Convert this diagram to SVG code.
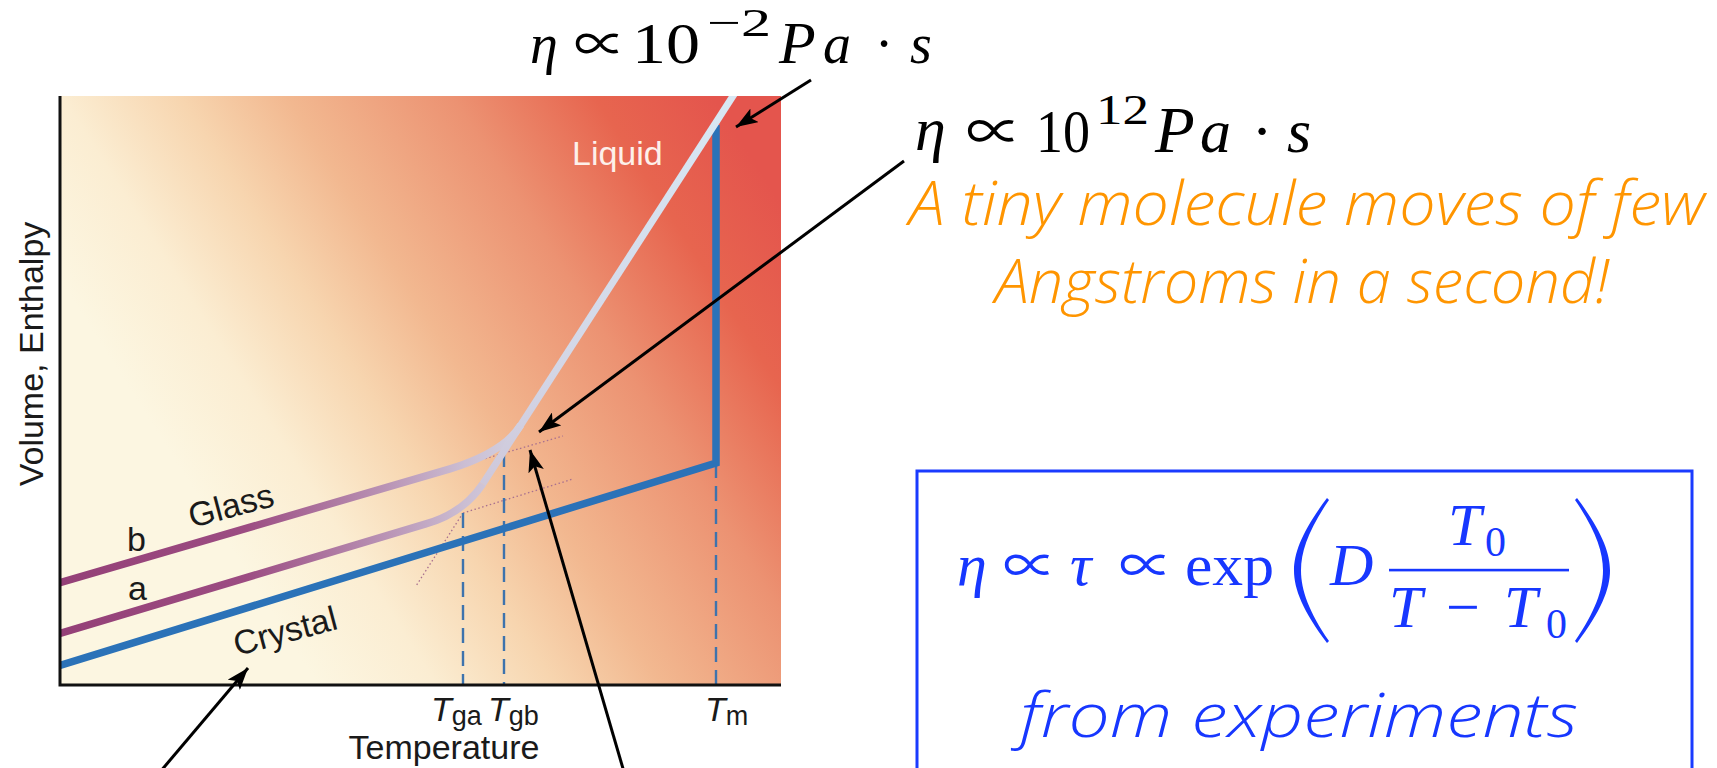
<svg xmlns="http://www.w3.org/2000/svg" width="1717" height="768" viewBox="0 0 1717 768">
<defs>
<style>
.lbl{font-family:"Liberation Sans",Arial,sans-serif;font-size:34px;fill:#1a1a1a}
.m{font-family:"Liberation Serif","DejaVu Serif",serif;fill:#000}
.mi{font-style:italic}
.pr{font-family:"Noto Sans CJK JP","DejaVu Serif",serif}
.hand{font-family:"Open Sans","Liberation Sans",sans-serif;font-style:italic;font-weight:300}
.arrow{stroke:#000;stroke-width:3;fill:none;marker-end:url(#ah)}
.dash{stroke:#3d73ad;stroke-width:2.4;stroke-dasharray:15 8;fill:none}
.dot{stroke:#a8708f;stroke-width:1.3;stroke-dasharray:1.5 2.5;fill:none}
.blue{fill:#1737ff}
</style>
<linearGradient id="bg" gradientUnits="userSpaceOnUse" x1="-84" y1="54" x2="464" y2="-295">
<stop offset="0" stop-color="#fcf6e1"/>
<stop offset="0.154" stop-color="#fbedd2"/>
<stop offset="0.308" stop-color="#f7d5af"/>
<stop offset="0.446" stop-color="#f2b890"/>
<stop offset="0.662" stop-color="#ec9272"/>
<stop offset="0.846" stop-color="#e7654f"/>
<stop offset="1" stop-color="#e4554d"/>
</linearGradient>
<linearGradient id="glassG" gradientUnits="userSpaceOnUse" x1="60" y1="0" x2="525" y2="0">
<stop offset="0" stop-color="#944077"/>
<stop offset="0.4" stop-color="#9c4c82"/>
<stop offset="0.7" stop-color="#b993b5"/>
<stop offset="0.87" stop-color="#cbbed3"/>
<stop offset="1" stop-color="#d3d3e2"/>
</linearGradient>
<linearGradient id="liqG" gradientUnits="userSpaceOnUse" x1="0" y1="520" x2="0" y2="96">
<stop offset="0" stop-color="#cdc3d6"/>
<stop offset="0.35" stop-color="#d3d6e6"/>
<stop offset="1" stop-color="#d8e8f4"/>
</linearGradient>
<marker id="ah" markerUnits="userSpaceOnUse" markerWidth="24" markerHeight="16" refX="22" refY="8" orient="auto" viewBox="0 0 24 16">
<path d="M0,0 L22,8 L0,16 L5,8 z" fill="#000"/>
</marker>
<clipPath id="plotClip"><rect x="60" y="96" width="721" height="589"/></clipPath>
</defs>
<rect width="1717" height="768" fill="#fff"/>

<g id="plot">
<rect x="60" y="96" width="721" height="589" fill="url(#bg)"/>
<g clip-path="url(#plotClip)">
<path class="dot" d="M470,463 L563,436"/>
<path class="dot" d="M463,513 L573,479"/>
<path class="dot" d="M463,513 L416,586"/>
<path class="dash" d="M463,513 V685"/>
<path class="dash" d="M504,452 V685"/>
<path class="dash" d="M716,463 V685"/>
<path d="M60,665.5 L716,463 V125" fill="none" stroke="#2b72b8" stroke-width="7.5"/>
<path d="M60,582.7 L450,468.9 Q504,452 520.7,425" fill="none" stroke="url(#glassG)" stroke-width="7.5"/>
<path d="M60,633.3 L425,524.2 Q463,513.5 482.7,484" fill="none" stroke="url(#glassG)" stroke-width="7.5"/>
<path d="M482.7,484 L743.3,80" fill="none" stroke="url(#liqG)" stroke-width="7"/>
</g>
<path d="M60,96 V686.5 M58.5,685 H781" stroke="#111" stroke-width="3" fill="none"/>
</g>

<g id="plot-labels">
<text class="lbl" transform="translate(43,354) rotate(-90)" text-anchor="middle">Volume, Enthalpy</text>
<text class="lbl" x="444" y="759" text-anchor="middle">Temperature</text>
<text class="lbl" x="572" y="165" style="fill:#fdf0ea">Liquid</text>
<text class="lbl" x="127" y="551">b</text>
<text class="lbl" x="128" y="600">a</text>
<text class="lbl" transform="translate(192,528) rotate(-15)">Glass</text>
<text class="lbl" transform="translate(237,656) rotate(-15)" font-size="35">Crystal</text>
<text class="lbl" x="431" y="721" font-style="italic" font-size="36">T<tspan font-style="normal" font-size="27" dy="4">ga</tspan></text>
<text class="lbl" x="488" y="721" font-style="italic" font-size="36">T<tspan font-style="normal" font-size="27" dy="4">gb</tspan></text>
<text class="lbl" x="705" y="721" font-style="italic" font-size="36">T<tspan font-style="normal" font-size="27" dy="4">m</tspan></text>
</g>

<g id="eta-liquid" font-size="56">
<text x="530" y="63" class="m mi">η</text>
<text transform="translate(574,62) scale(1.0,0.95)" class="m pr" font-size="52">∝</text>
<text x="632" y="63" class="m" font-size="58" textLength="68" lengthAdjust="spacingAndGlyphs">10</text>
<text x="707" y="36" class="m" font-size="40" textLength="64" lengthAdjust="spacingAndGlyphs">−2</text>
<text x="779" y="63" class="m mi" font-size="60">P</text>
<text x="823" y="63" class="m mi">a</text>
<text x="884" y="63" class="m" text-anchor="middle">·</text>
<text x="910" y="63" class="m mi">s</text>
</g>

<g id="eta-glass" font-size="62">
<text x="915" y="150" class="m mi">η</text>
<text transform="translate(966,151) scale(1.0,0.95)" class="m pr" font-size="56">∝</text>
<text x="1036" y="152" class="m" textLength="54" lengthAdjust="spacingAndGlyphs">10</text>
<text x="1096" y="124" class="m" font-size="42" textLength="53" lengthAdjust="spacingAndGlyphs">12</text>
<text x="1155" y="152" class="m mi" font-size="65">P</text>
<text x="1200" y="152" class="m mi">a</text>
<text x="1262" y="152" class="m" text-anchor="middle">·</text>
<text x="1287" y="152" class="m mi">s</text>
</g>

<g id="note" class="hand" font-size="60" fill="#ff9500">
<text x="909" y="225" textLength="796" lengthAdjust="spacingAndGlyphs">A tiny molecule moves of few</text>
<text x="995" y="303" textLength="614" lengthAdjust="spacingAndGlyphs">Angstroms in a second!</text>
</g>

<g id="vft-box">
<rect x="917" y="471" width="775" height="330" fill="none" stroke="#1a3bff" stroke-width="3"/>
<g class="blue" font-size="60">
<text x="957" y="585" class="m mi blue">η</text>
<text transform="translate(1003,584) scale(1.0,0.95)" class="m pr blue" font-size="54">∝</text>
<text x="1070" y="585" class="m mi blue">τ</text>
<text transform="translate(1119,584) scale(1.0,0.95)" class="m pr blue" font-size="54">∝</text>
<text x="1185" y="585" class="m blue" textLength="89" lengthAdjust="spacingAndGlyphs">exp</text>
<path d="M1327,498 C1303,530 1294,552 1294,570.5 C1294,589 1303,611 1327,643 L1329,641 C1309,612 1301,590 1301,570.5 C1301,551 1309,529 1329,500 Z"/>
<path d="M1577,498 C1601,530 1610,552 1610,570.5 C1610,589 1601,611 1577,643 L1575,641 C1595,612 1603,590 1603,570.5 C1603,551 1595,529 1575,500 Z"/>
<text x="1330" y="585" class="m mi blue">D</text>
<text x="1448" y="545" class="m mi blue">T</text>
<text x="1485" y="556" class="m blue" font-size="42">0</text>
<rect x="1389" y="568.8" width="180" height="2.6"/>
<text x="1389" y="627" class="m mi blue">T</text>
<text x="1446" y="627" class="m blue">−</text>
<text x="1504" y="627" class="m mi blue">T</text>
<text x="1546" y="638" class="m blue" font-size="42">0</text>
</g>
<text x="1020" y="737" class="hand" font-size="60" fill="#1737ff" textLength="558" lengthAdjust="spacingAndGlyphs">from experiments</text>
</g>

<g id="connectors">
<line class="arrow" x1="811" y1="80" x2="736" y2="127"/>
<line class="arrow" x1="904" y1="161" x2="539" y2="432"/>
<line class="arrow" x1="160" y1="772" x2="248" y2="668"/>
<line class="arrow" x1="624" y1="772" x2="530" y2="450"/>
</g>
</svg>
